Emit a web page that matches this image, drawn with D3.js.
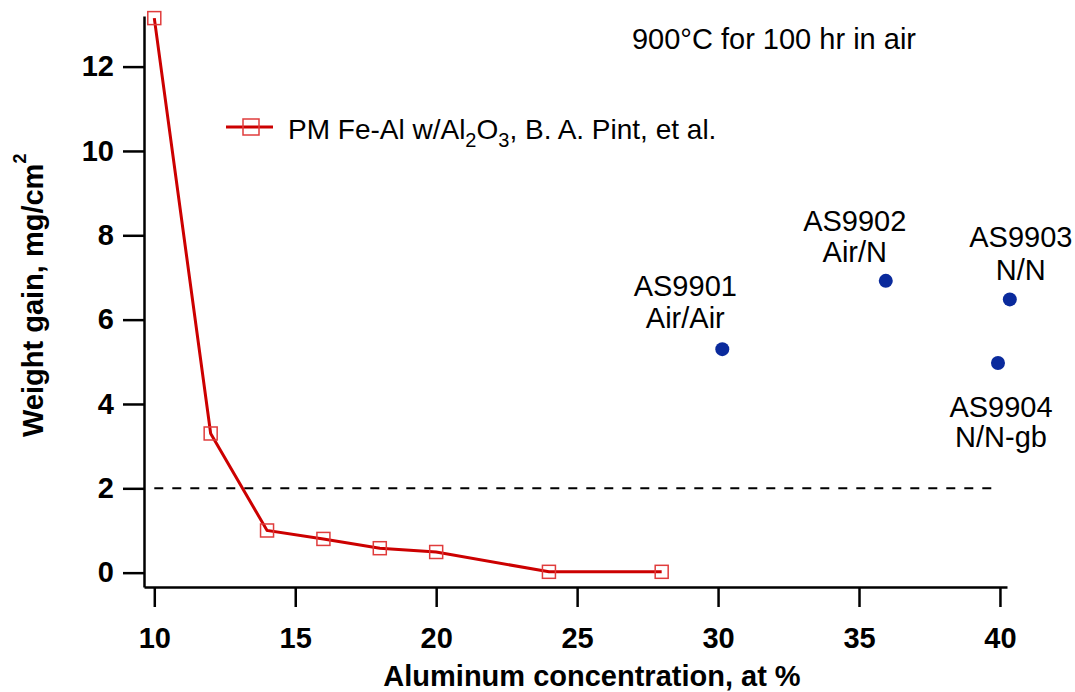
<!DOCTYPE html>
<html>
<head>
<meta charset="utf-8">
<script src="https://cdn.jsdelivr.net/npm/d3@7"></script>
<style>
  body { margin: 0; background: #fff; }
  svg text { font-family: "Liberation Sans", Arial, sans-serif; }
</style>
</head>
<body>
<div id="chart"></div>
<script>
// PM Fe-Al reference series
var pintAl = [10, 12, 14, 16, 18, 20, 24, 28];
var pintGain = [13.15, 3.3, 1.0, 0.8, 0.58, 0.49, 0.02, 0.02];

// AS99xx alloys
var alloyNames = ['AS9901', 'AS9902', 'AS9903', 'AS9904'];
var alloyAtm = ['Air/Air', 'Air/N', 'N/N', 'N/N-gb'];
var alloyAl = [30.15, 35.95, 40.35, 39.93];
var alloyGain = [5.3, 6.92, 6.48, 4.97];

var xTicks = [10, 15, 20, 25, 30, 35, 40];
var yTicks = [0, 2, 4, 6, 8, 10, 12];
var limitGain = 2;

var svgwidth = 1075, svgheight = 692;

var svg = d3.select('#chart')
  .append('svg')
    .attr('width', svgwidth)
    .attr('height', svgheight);

var x = d3.scaleLinear()
  .domain([9.635, 40.25])
  .range([144, 1007]);

var y = d3.scaleLinear()
  .domain([-0.34, 13.2])
  .range([587, 16]);

// axes
var xAxis = d3.axisBottom(x)
  .tickValues(xTicks)
  .tickSize(20)
  .tickSizeOuter(0)
  .tickPadding(20);

var yAxis = d3.axisLeft(y)
  .tickValues(yTicks)
  .tickSize(21)
  .tickSizeOuter(0)
  .tickPadding(9);

var gX = svg.append('g')
  .attr('transform', 'translate(0,' + 587 + ')')
  .call(xAxis);

var gY = svg.append('g')
  .attr('transform', 'translate(' + 144 + ',0)')
  .call(yAxis);

[gX, gY].forEach(function(g) {
  g.select('.domain').attr('stroke', '#000').attr('stroke-width', 2.5);
  g.selectAll('.tick line').attr('stroke', '#000').attr('stroke-width', 2.5);
  g.selectAll('.tick text')
    .attr('fill', '#000')
    .attr('font-size', 29)
    .attr('font-weight', 'bold')
    .attr('font-family', '"Liberation Sans", Arial, sans-serif');
});

// axis titles
svg.append('text')
  .attr('x', 592)
  .attr('y', 686)
  .attr('text-anchor', 'middle')
  .attr('font-size', 29)
  .attr('font-weight', 'bold')
  .text('Aluminum concentration, at %');

var yTitle = svg.append('text')
  .attr('transform', 'translate(43,437) rotate(-90)')
  .attr('font-size', 29)
  .attr('font-weight', 'bold');
yTitle.append('tspan').text('Weight gain, mg/cm');
yTitle.append('tspan').attr('dy', -17).attr('font-size', 18).text('2');

// 2 mg/cm2 limit
svg.append('line')
  .attr('x1', x(10))
  .attr('x2', x(40))
  .attr('y1', y(limitGain))
  .attr('y2', y(limitGain))
  .attr('stroke', '#000')
  .attr('stroke-width', 2)
  .attr('stroke-dasharray', '9,9');

// red curve
var pts = pintAl.map(function(d, i) { return [d, pintGain[i]]; });
var line = d3.line()
  .x(function(d) { return x(d[0]); })
  .y(function(d) { return y(d[1]); });

svg.append('path')
  .datum(pts)
  .attr('fill', 'none')
  .attr('stroke', '#cc0000')
  .attr('stroke-width', 3)
  .attr('d', line);

svg.selectAll('.sq')
  .data(pts)
  .enter().append('rect')
    .attr('class', 'sq')
    .attr('x', function(d) { return x(d[0]) - 6.5; })
    .attr('y', function(d) { return y(d[1]) - 6.5; })
    .attr('width', 13)
    .attr('height', 13)
    .attr('fill', 'none')
    .attr('stroke', '#e03c3c')
    .attr('stroke-width', 1.5);

// blue points
var alloys = alloyNames.map(function(n, i) {
  return {name: n, atm: alloyAtm[i], al: alloyAl[i], gain: alloyGain[i]};
});

svg.selectAll('.dot')
  .data(alloys)
  .enter().append('circle')
    .attr('class', 'dot')
    .attr('cx', function(d) { return x(d.al); })
    .attr('cy', function(d) { return y(d.gain); })
    .attr('r', 7)
    .attr('fill', '#0a2a9c');

// label offsets from each point: [dx, dy line1, dy line2]
var labelOff = [[-37, -53, -21], [-31, -50, -19], [11, -52, -19], [3, 54, 84]];
alloys.forEach(function(d, i) {
  var o = labelOff[i];
  [d.name, d.atm].forEach(function(t, k) {
    svg.append('text')
      .attr('x', x(d.al) + o[0])
      .attr('y', y(d.gain) + o[k + 1])
      .attr('text-anchor', 'middle')
      .attr('font-size', 29)
      .attr('fill', '#000')
      .text(t);
  });
});

// condition note
svg.append('text')
  .attr('x', 774)
  .attr('y', 49)
  .attr('text-anchor', 'middle')
  .attr('font-size', 29)
  .text('900\u00B0C for 100 hr in air');

// legend
var legend = svg.append('g');
legend.append('line')
  .attr('x1', 226).attr('x2', 273)
  .attr('y1', 127).attr('y2', 127)
  .attr('stroke', '#cc0000')
  .attr('stroke-width', 3);
legend.append('rect')
  .attr('x', 243).attr('y', 119)
  .attr('width', 16).attr('height', 16)
  .attr('fill', 'none')
  .attr('stroke', '#e03c3c')
  .attr('stroke-width', 1.5);
var lt = legend.append('text')
  .attr('x', 288)
  .attr('y', 139)
  .attr('font-size', 28)
  .attr('fill', '#000');
lt.append('tspan').text('PM Fe-Al w/Al');
lt.append('tspan').attr('dy', 8).attr('font-size', 20).text('2');
lt.append('tspan').attr('dy', -8).text('O');
lt.append('tspan').attr('dy', 8).attr('font-size', 20).text('3');
lt.append('tspan').attr('dy', -8).text(', B. A. Pint, et al.');
</script>
</body>
</html>
